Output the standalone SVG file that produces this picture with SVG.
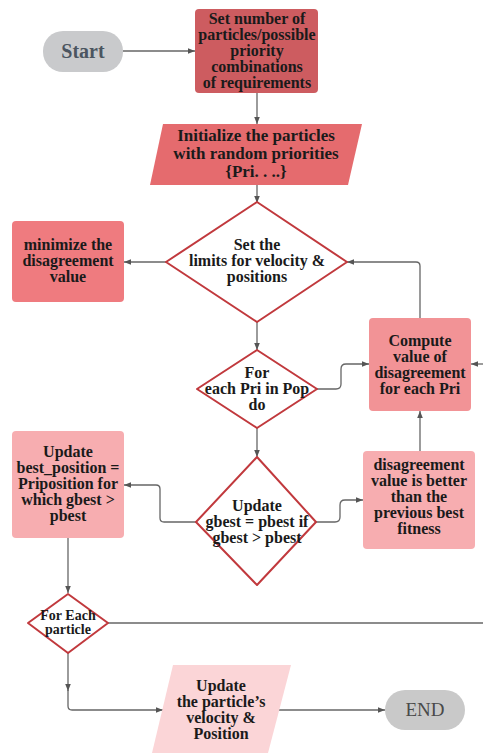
<svg xmlns="http://www.w3.org/2000/svg" width="483" height="753" viewBox="0 0 483 753">
<defs>
<marker id="ah" viewBox="0 0 10 10" refX="10" refY="5" markerWidth="7" markerHeight="7" orient="auto" markerUnits="userSpaceOnUse">
<path d="M0,1 L10,5 L0,9 z" fill="#555"/>
</marker>
<style>
.t{font-family:"Liberation Serif","DejaVu Serif",serif;font-weight:bold;fill:#1a1a1a;text-anchor:middle;}
.s16{font-size:16px;}
.s17{font-size:17px;}
.s14{font-size:14px;}
.c{fill:none;stroke:#666;stroke-width:1.3;}
.dia{fill:#fff;stroke:#c1393d;stroke-width:2;stroke-linejoin:round;}
</style>
</defs>
<rect width="483" height="753" fill="#fff"/>

<g id="connectors">
<path class="c" d="M123,51 H195" marker-end="url(#ah)"/>
<path class="c" d="M257,93 V124" marker-end="url(#ah)"/>
<path class="c" d="M257,185 V203" marker-end="url(#ah)"/>
<path class="c" d="M166,262 H124" marker-end="url(#ah)"/>
<path class="c" d="M420,318 V266 Q420,262 416,262 H347" marker-end="url(#ah)"/>
<path class="c" d="M483,364 H471" marker-end="url(#ah)"/>
<path class="c" d="M257,322 V350" marker-end="url(#ah)"/>
<path class="c" d="M317,389 H336 Q341,389 341,384 V369 Q341,364 346,364 H369" marker-end="url(#ah)"/>
<path class="c" d="M257,428 V457" marker-end="url(#ah)"/>
<path class="c" d="M196,522 H164 Q160,522 160,518 V489 Q160,485 156,485 H124" marker-end="url(#ah)"/>
<path class="c" d="M316,522 H335 Q340,522 340,517 V505 Q340,500 345,500 H363" marker-end="url(#ah)"/>
<path class="c" d="M420,451 V411" marker-end="url(#ah)"/>
<path class="c" d="M68,538 V593" marker-end="url(#ah)"/>
<path class="c" d="M108,623 H483"/>
<path class="c" d="M68,653 V691" marker-end="url(#ah)"/>
<path class="c" d="M68,690 V706 Q68,710 72,710 H163" marker-end="url(#ah)"/>
<path class="c" d="M279,710 H385" marker-end="url(#ah)"/>
</g>

<g id="start">
<rect x="43" y="31" width="80" height="41" rx="20" fill="#c9cacc"/>
<text class="t" x="83" y="58" style="font-size:20px;fill:#4b5560">Start</text>
</g>

<g id="set-number">
<rect x="195" y="9" width="123" height="84" rx="4" fill="#cd5c60"/>
<text class="t s16" x="257" y="24">Set number of</text>
<text class="t s16" x="257" y="40">particles/possible</text>
<text class="t s16" x="257" y="56">priority</text>
<text class="t s16" x="257" y="72">combinations</text>
<text class="t s16" x="257" y="88">of requirements</text>
</g>

<g id="initialize">
<path d="M163,124 H362 L348,185 H150 Z" fill="#e56b6e"/>
<text class="t s17" x="256" y="141">Initialize the particles</text>
<text class="t s17" x="256" y="159">with random priorities</text>
<text class="t s17" x="256" y="177">{Pri. . ..}</text>
</g>

<g id="set-limits">
<path class="dia" d="M257,202 L347,262 L257,322 L166,262 Z"/>
<text class="t s16" x="257" y="250">Set the</text>
<text class="t s16" x="257" y="266">limits for velocity &amp;</text>
<text class="t s16" x="257" y="282">positions</text>
</g>

<g id="minimize">
<rect x="12" y="221" width="112" height="81" rx="4" fill="#ef7b7f"/>
<text class="t s16" x="68" y="250">minimize the</text>
<text class="t s16" x="68" y="266">disagreement</text>
<text class="t s16" x="68" y="282">value</text>
</g>

<g id="compute">
<rect x="369" y="318" width="102" height="93" rx="4" fill="#f29396"/>
<text class="t s16" x="420" y="346">Compute</text>
<text class="t s16" x="420" y="362">value of</text>
<text class="t s16" x="420" y="378">disagreement</text>
<text class="t s16" x="420" y="394">for each Pri</text>
</g>

<g id="for-each-pri">
<path class="dia" d="M257,350 L317,389 L257,428 L197,389 Z"/>
<text class="t s16" x="257" y="378">For</text>
<text class="t s16" x="257" y="394">each Pri in Pop</text>
<text class="t s16" x="257" y="410">do</text>
</g>

<g id="update-gbest">
<path class="dia" d="M257,457 L316,522 L257,585 L196,522 Z"/>
<text class="t s16" x="257" y="511">Update</text>
<text class="t s16" x="257" y="527">gbest = pbest if</text>
<text class="t s16" x="257" y="543">gbest &gt; pbest</text>
</g>

<g id="update-best-position">
<rect x="12" y="431" width="112" height="107" rx="4" fill="#f7adb0"/>
<text class="t s16" x="68" y="457">Update</text>
<text class="t s16" x="68" y="473">best_position =</text>
<text class="t s16" x="68" y="489">Priposition for</text>
<text class="t s16" x="68" y="505">which gbest &gt;</text>
<text class="t s16" x="68" y="521">pbest</text>
</g>

<g id="disagreement-better">
<rect x="363" y="451" width="112" height="98" rx="4" fill="#f7adb0"/>
<text class="t s16" x="419" y="470">disagreement</text>
<text class="t s16" x="419" y="486">value is better</text>
<text class="t s16" x="419" y="502">than the</text>
<text class="t s16" x="419" y="518">previous best</text>
<text class="t s16" x="419" y="534">fitness</text>
</g>

<g id="for-each-particle">
<path class="dia" d="M68,594 L108,623 L68,653 L28,623 Z"/>
<text class="t s14" x="68" y="620">For Each</text>
<text class="t s14" x="68" y="634">particle</text>
</g>

<g id="update-particle">
<path d="M173,665 H291 L268,753 H152 Z" fill="#fbd5d7"/>
<text class="t s16" x="221" y="691">Update</text>
<text class="t s16" x="221" y="707">the particle’s</text>
<text class="t s16" x="221" y="723">velocity &amp;</text>
<text class="t s16" x="221" y="739">Position</text>
</g>

<g id="end">
<rect x="385" y="690" width="80" height="40" rx="20" fill="#c9c9c9"/>
<text x="425" y="716" style="font-family:'Liberation Serif','DejaVu Serif',serif;font-size:19px;fill:#4a4a4a;text-anchor:middle">END</text>
</g>
</svg>
